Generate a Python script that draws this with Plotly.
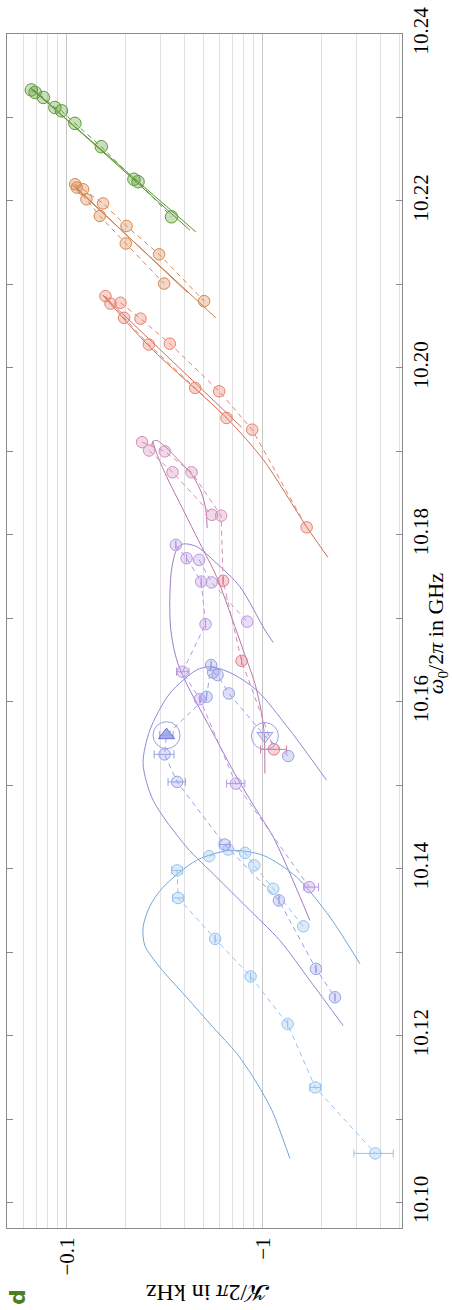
import numpy as np
import plotly.graph_objects as go

# Coupling K/2π (kHz, negative) against the resonance frequency ω0/2π (GHz).
# Each colour is one sweep; "A"/"B" are its two measurement runs, FIT are model curves.

GREEN_W = [10.2333, 10.2330, 10.2324, 10.2312, 10.2308, 10.2293, 10.2265, 10.2226, 10.2223, 10.2181]
GREEN_K = [-0.066, -0.069, -0.076, -0.087, -0.094, -0.110, -0.150, -0.220, -0.231, -0.342]
GREEN_FIT1_W = [10.2335, 10.2163]
GREEN_FIT1_K = [-0.0655, -0.455]
GREEN_FIT2_W = [10.2334, 10.2165]
GREEN_FIT2_K = [-0.0671, -0.4245]

ORANGE_A_W = [10.2220, 10.2214, 10.2197, 10.2170, 10.2136, 10.2080]
ORANGE_A_K = [-0.1104, -0.1211, -0.1532, -0.2017, -0.2958, -0.5018]
ORANGE_B_W = [10.2216, 10.2202, 10.2182, 10.2149, 10.2101]
ORANGE_B_K = [-0.1125, -0.1260, -0.1474, -0.2000, -0.3135]
ORANGE_FIT1_W = [10.2220, 10.2060]
ORANGE_FIT1_K = [-0.1061, -0.5755]
ORANGE_FIT2_W = [10.2219, 10.2090]
ORANGE_FIT2_K = [-0.1086, -0.414]

RED_A_W = [10.2086, 10.2077, 10.2060, 10.2028, 10.1976, 10.1940]
RED_A_K = [-0.1575, -0.1671, -0.1960, -0.2621, -0.4515, -0.6529]
RED_B_W = [10.2078, 10.2059, 10.2029, 10.1972, 10.1926, 10.1809]
RED_B_K = [-0.1879, -0.2377, -0.3354, -0.5984, -0.8818, -1.671]
RED_FIT1_W = [10.2087, 10.1929]
RED_FIT1_K = [-0.1532, -0.7786]
RED_FIT2_W = [10.2087, 10.2025, 10.1940, 10.1890, 10.1809, 10.1773]
RED_FIT2_K = [-0.1532, -0.2652, -0.6529, -1.004, -1.677, -2.146]

PINK_A_W = [10.1911, 10.1900, 10.1875, 10.1823]
PINK_A_K = [-0.2422, -0.3162, -0.4327, -0.6125]
PINK_B_W = [10.1901, 10.1875, 10.1824]
PINK_B_K = [-0.2630, -0.3462, -0.5493]
ROSE_W = [10.1745, 10.1649, 10.1543]
ROSE_K = [-0.6271, -0.7786, -1.138]
ROSE_ERR_MINUS = [None, None, 0.165]
ROSE_ERR_PLUS = [None, None, 0.183]
PINK_FIT1_W = [10.1906, 10.1912, 10.1913, 10.1906, 10.1888, 10.1870, 10.1850, 10.1830, 10.1808]
PINK_FIT1_K = [-0.2715, -0.2747, -0.2878, -0.3162, -0.3771, -0.4409, -0.4867, -0.5118, -0.5197]
PINK_FIT2_W = [10.1912, 10.1898, 10.1870, 10.1830, 10.1790, 10.1750, 10.1698, 10.1662,
               10.1622, 10.1586, 10.1562, 10.1514]
PINK_FIT2_K = [-0.2747, -0.2869, -0.3226, -0.3922, -0.4771, -0.5805, -0.7003, -0.7932,
               -0.9103, -0.9849, -1.0153, -1.0238]

PURPLE_A_W = [10.1788, 10.1772, 10.1744, 10.1693, 10.1636, 10.1603, 10.1502, 10.1378]
PURPLE_A_K = [-0.3598, -0.4081, -0.4844, -0.5101, -0.3893, -0.4771, -0.7283, -1.7225]
PURPLE_A_ERR_MINUS = [None, None, None, None, 0.0265, None, 0.075, 0.10]
PURPLE_A_ERR_PLUS = [None, None, None, None, 0.031, None, 0.081, 0.20]
PURPLE_B_W = [10.1770, 10.1743, 10.1696]
PURPLE_B_K = [-0.4732, -0.5473, -0.8316]
PURPLE_FIT_W = [10.1671, 10.1686, 10.1738, 10.1766, 10.1786, 10.1789, 10.1782, 10.1758, 10.1725,
                10.1692, 10.1668, 10.1646, 10.1618, 10.1562, 10.1510, 10.1470, 10.1438, 10.1338]
PURPLE_FIT_K = [-1.129, -1.024, -0.7632, -0.5805, -0.4589, -0.3907, -0.3628, -0.3421, -0.3354,
                -0.3374, -0.3486, -0.3684, -0.4159, -0.5577, -0.7343, -0.9287, -1.129, -1.737]

LAV_A_W = [10.1644, 10.1606, 10.1537, 10.1504, 10.1429, 10.1362, 10.1280, 10.1246]
LAV_A_K = [-0.5447, -0.5161, -0.3151, -0.3654, -0.6377, -1.207, -1.864, -2.330]
LAV_A_ERR_MINUS = [None, None, 0.036, 0.037, 0.034, None, None, None]
LAV_A_ERR_PLUS = [None, None, 0.037, 0.037, 0.041, None, None, None]
LAV_B_W = [10.1635, 10.1632, 10.1610, 10.1535]
LAV_B_K = [-0.5577, -0.5873, -0.6708, -1.346]
TRI_UP_W = [10.1560]
TRI_UP_K = [-0.3226]
TRI_UP_ERR_MINUS = [0.025]
TRI_UP_ERR_PLUS = [0.026]
TRI_DOWN_W = [10.1559]
TRI_DOWN_K = [-1.024]
LAV_FIT_W = [10.1506, 10.1566, 10.1614, 10.1635, 10.1642, 10.1638, 10.1610, 10.1566, 10.1526,
             10.1482, 10.1426, 10.1390, 10.1355, 10.1314, 10.1266, 10.1212]
LAV_FIT_K = [-2.113, -1.373, -0.9287, -0.6788, -0.5365, -0.4589, -0.3354, -0.2652, -0.2450,
             -0.2756, -0.4081, -0.5805, -0.8190, -1.221, -1.737, -2.569]

BLUE_A_W = [10.1398, 10.1365, 10.1316, 10.1271, 10.1214, 10.1138, 10.1059]
BLUE_A_K = [-0.3654, -0.3697, -0.5710, -0.8656, -1.337, -1.849, -3.741]
BLUE_A_ERR_MINUS = [0.023, 0.0235, None, None, None, 0.112, 0.83]
BLUE_A_ERR_PLUS = [0.024, 0.0256, None, None, None, 0.121, 0.88]
BLUE_B_W = [10.1415, 10.1423, 10.1419, 10.1404, 10.1376, 10.1331]
BLUE_B_K = [-0.5321, -0.6653, -0.8124, -0.9029, -1.129, -1.606]
BLUE_FIT_W = [10.1286, 10.1342, 10.1390, 10.1416, 10.1422, 10.1410, 10.1378, 10.1355, 10.1330,
              10.1308, 10.1282, 10.1246, 10.1210, 10.1179, 10.1147, 10.1123, 10.1107, 10.1053]
BLUE_FIT_K = [-3.125, -2.197, -1.485, -1.004, -0.6788, -0.4589, -0.3100, -0.2652, -0.2450,
              -0.2500, -0.2981, -0.4081, -0.5577, -0.7343, -0.9103, -1.0445, -1.129, -1.373]

K_GRID_MAJOR = [0.1, 1]
K_TICK_TEXT = ["\u22120.1", "\u22121"]
K_GRID_MINOR = [0.06, 0.07, 0.08, 0.09, 0.2, 0.3, 0.4, 0.5, 0.6, 0.7, 0.8, 0.9, 2, 3, 4, 5]
W_TICKS = [10.10, 10.12, 10.14, 10.16, 10.18, 10.20, 10.22, 10.24]
W_TICK_TEXT = ["10.10", "10.12", "10.14", "10.16", "10.18", "10.20", "10.22", "10.24"]
W_MINOR_TICKS = [10.11, 10.13, 10.15, 10.17, 10.19, 10.21, 10.23]

FONT = "Liberation Serif, DejaVu Serif, serif"

# colour per sweep: (marker rgb, model-curve colour)
COL = {
    "green": ((92, 155, 52), "rgb(86,148,40)"),
    "orange": ((217, 134, 78), "rgb(200,125,72)"),
    "red": ((232, 128, 108), "rgb(210,110,85)"),
    "pink": ((214, 140, 185), "rgb(180,120,165)"),
    "rose": ((226, 120, 138), "rgb(200,110,130)"),
    "purple": ((185, 150, 228), "rgb(155,125,200)"),
    "lav": ((152, 160, 230), "rgb(135,140,210)"),
    "blue": ((150, 195, 240), "rgb(115,165,215)"),
}


def mag(vals):
    return [abs(v) for v in vals]


def rgb(c, a=1.0):
    return f"rgba({c[0]},{c[1]},{c[2]},{a})"


fig = go.Figure()


def fit_curve(w, k, col):
    fig.add_trace(go.Scatter(x=mag(k), y=w, mode="lines",
                             line=dict(color=COL[col][1], width=1, shape="spline", smoothing=0.8),
                             hoverinfo="skip"))


def dashed(w, k, col):
    fig.add_trace(go.Scatter(x=mag(k), y=w, mode="lines",
                             line=dict(color=rgb(COL[col][0]), width=1, dash="5px,4px"),
                             hoverinfo="skip"))


def points(w, k, col, emin=None, eplus=None, symbol="circle", size=11.5, fill_a=0.33, edge=None):
    c = COL[col][0]
    err = None
    if emin is not None:
        err = dict(type="data", symmetric=False, array=eplus, arrayminus=emin,
                   color=rgb(c), thickness=1, width=4)
    fig.add_trace(go.Scatter(x=mag(k), y=w, mode="markers", error_x=err,
                             marker=dict(symbol=symbol, size=size, color=rgb(c, fill_a),
                                         line=dict(color=edge or rgb(c), width=1))))


# model curves
fit_curve(GREEN_FIT1_W, GREEN_FIT1_K, "green")
fit_curve(GREEN_FIT2_W, GREEN_FIT2_K, "green")
fit_curve(ORANGE_FIT1_W, ORANGE_FIT1_K, "orange")
fit_curve(ORANGE_FIT2_W, ORANGE_FIT2_K, "orange")
fit_curve(RED_FIT1_W, RED_FIT1_K, "red")
fit_curve(RED_FIT2_W, RED_FIT2_K, "red")
fit_curve(PINK_FIT1_W, PINK_FIT1_K, "pink")
fit_curve(PINK_FIT2_W, PINK_FIT2_K, "pink")
fit_curve(PURPLE_FIT_W, PURPLE_FIT_K, "purple")
fit_curve(LAV_FIT_W, LAV_FIT_K, "lav")
fit_curve(BLUE_FIT_W, BLUE_FIT_K, "blue")

# dashed guides joining each run
dashed(GREEN_W, GREEN_K, "green")
dashed(ORANGE_A_W, ORANGE_A_K, "orange")
dashed(ORANGE_B_W, ORANGE_B_K, "orange")
dashed(RED_A_W, RED_A_K, "red")
dashed(RED_B_W, RED_B_K, "red")
dashed(PINK_A_W + ROSE_W, PINK_A_K + ROSE_K, "pink")
dashed(PINK_B_W, PINK_B_K, "pink")
dashed(PURPLE_A_W, PURPLE_A_K, "purple")
dashed(PURPLE_B_W, PURPLE_B_K, "purple")
lav_a = sorted(zip(LAV_A_W + TRI_UP_W, LAV_A_K + TRI_UP_K), reverse=True)
lav_b = sorted(zip(LAV_B_W + TRI_DOWN_W, LAV_B_K + TRI_DOWN_K), reverse=True)
dashed([p[0] for p in lav_a], [p[1] for p in lav_a], "lav")
dashed([p[0] for p in lav_b], [p[1] for p in lav_b], "lav")
dashed(BLUE_A_W, BLUE_A_K, "blue")
dashed(BLUE_B_W, BLUE_B_K, "blue")

# measured points
points(GREEN_W, GREEN_K, "green", size=12.5)
points(ORANGE_A_W, ORANGE_A_K, "orange")
points(ORANGE_B_W, ORANGE_B_K, "orange")
points(RED_A_W, RED_A_K, "red")
points(RED_B_W, RED_B_K, "red")
points(PINK_A_W, PINK_A_K, "pink")
points(PINK_B_W, PINK_B_K, "pink")
points(ROSE_W, ROSE_K, "rose", ROSE_ERR_MINUS, ROSE_ERR_PLUS)
points(PURPLE_A_W, PURPLE_A_K, "purple", PURPLE_A_ERR_MINUS, PURPLE_A_ERR_PLUS)
points(PURPLE_B_W, PURPLE_B_K, "purple")
points(BLUE_A_W, BLUE_A_K, "blue", BLUE_A_ERR_MINUS, BLUE_A_ERR_PLUS)
points(BLUE_B_W, BLUE_B_K, "blue")
points(LAV_A_W, LAV_A_K, "lav", LAV_A_ERR_MINUS, LAV_A_ERR_PLUS)
points(LAV_B_W, LAV_B_K, "lav")

# highlighted operating points: triangles inside open rings
points(TRI_UP_W, TRI_UP_K, "lav", TRI_UP_ERR_MINUS, TRI_UP_ERR_PLUS,
       symbol="triangle-up", size=14, fill_a=0.85, edge="rgb(105,115,210)")
points(TRI_DOWN_W, TRI_DOWN_K, "lav", symbol="triangle-down", size=14, fill_a=0.3)
for w, k in ((TRI_UP_W, TRI_UP_K), (TRI_DOWN_W, TRI_DOWN_K)):
    fig.add_trace(go.Scatter(x=mag(k), y=w, mode="markers",
                             marker=dict(symbol="circle", size=27, color="rgba(0,0,0,0)",
                                         line=dict(color=rgb(COL["lav"][0]), width=1))))

axis_col = "#8a8a8a"
fig.update_layout(
    width=452, height=1310,
    margin=dict(l=7, r=50, t=34, b=82),
    paper_bgcolor="white", plot_bgcolor="white",
    showlegend=False,
    font=dict(family=FONT, size=21, color="black"),
    xaxis=dict(
        type="log", range=[-1.3046, 0.7092],
        tickmode="array", tickvals=K_GRID_MAJOR, ticktext=K_TICK_TEXT, tickangle=-90,
        ticks="", showgrid=True, gridcolor="#c6c6c6", gridwidth=1,
        minor=dict(tickmode="array", tickvals=K_GRID_MINOR, showgrid=True,
                   gridcolor="#e0e0e0", gridwidth=1, ticks=""),
        showline=True, linecolor=axis_col, linewidth=1, mirror=True,
        zeroline=False, tickfont=dict(size=21),
    ),
    yaxis=dict(
        range=[10.09696, 10.24], side="right",
        tickmode="array", tickvals=W_TICKS, ticktext=W_TICK_TEXT, tickangle=-90,
        ticks="inside", ticklen=6, tickcolor=axis_col, showgrid=False,
        minor=dict(tickmode="array", tickvals=W_MINOR_TICKS, ticks="inside", ticklen=6,
                   tickcolor=axis_col, showgrid=False),
        showline=True, linecolor=axis_col, linewidth=1, mirror="ticks",
        zeroline=False, tickfont=dict(size=21),
    ),
    annotations=[
        dict(text="<i>ω</i><sub>0</sub>/2<i>π</i> in GHz", xref="paper", yref="paper",
             x=1.089, y=0.4975, showarrow=False, textangle=-90,
             xanchor="center", yanchor="middle", font=dict(size=22)),
        dict(text="\U0001D4A6/2<i>π</i> in kHz", xref="paper", yref="paper",
             x=0.509, y=-0.0544, showarrow=False, textangle=180,
             xanchor="center", yanchor="middle", font=dict(size=24)),
        dict(text="<b>d</b>", xref="paper", yref="paper",
             x=0.0253, y=-0.0578, showarrow=False, textangle=-90,
             xanchor="center", yanchor="middle",
             font=dict(size=22, color="#4d7f1f", family="DejaVu Sans, sans-serif")),
    ],
)

fig.write_html("out.html")
